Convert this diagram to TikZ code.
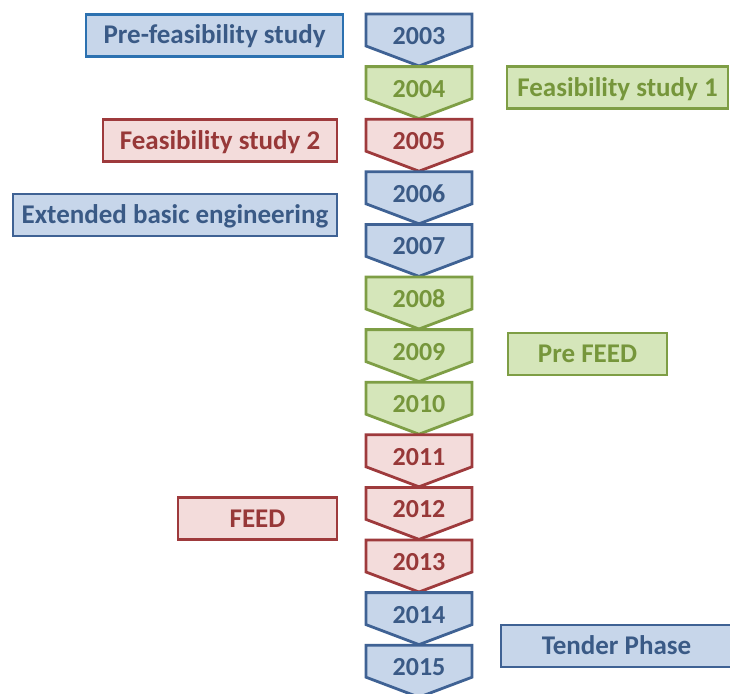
\documentclass[tikz,border=0pt]{standalone}
\usepackage{fontspec}
\setmainfont{Carlito}
\usetikzlibrary{positioning}
\definecolor{tlblue}{HTML}{C7D6EA}
\definecolor{tlbluedk}{HTML}{3F6294}
\definecolor{tlbluetx}{HTML}{3A5A86}
\definecolor{tlbluebr}{HTML}{2C71B0}
\definecolor{tlgreen}{HTML}{D5E6BA}
\definecolor{tlgreendk}{HTML}{7E9E45}
\definecolor{tlgreentx}{HTML}{76963B}
\definecolor{tlred}{HTML}{F3DCDB}
\definecolor{tlreddk}{HTML}{9E3A3C}
\definecolor{tlredtx}{HTML}{973838}

\begin{document}
\begin{tikzpicture}[x=1pt,y=-1pt,
      bluepart/.style={draw=tlbluedk,fill=tlblue,text=tlbluetx},
      greenpart/.style={draw=tlgreendk,fill=tlgreen,text=tlgreentx},
      redpart/.style={draw=tlreddk,fill=tlred,text=tlredtx},
      year/.style={anchor=base,font=\bfseries\fontsize{26}{26}\selectfont},
      phase/.style={draw,line width=2.8pt,minimum height=42pt,inner sep=0pt,
        text height=20pt,text depth=3pt,font=\bfseries\fontsize{27}{27}\selectfont}]
    \useasboundingbox[fill=white] (0,0) rectangle (730,693);

    % one chevron per year, stacked down the middle
    \foreach \yr/\tone [count=\i from 0] in {2003/blue,2004/green,2005/red,2006/blue,
        2007/blue,2008/green,2009/green,2010/green,2011/red,2012/red,2013/red,
        2014/blue,2015/blue}{
      \pgfmathsetmacro{\ytop}{14+52.6*\i}
      \draw[\tone part,line width=2.8pt,line join=miter]
        (366,\ytop) -- ++(106,0) -- ++(0,32) -- ++(-53,20) -- ++(-53,-20) -- cycle;
      \node[year,\tone part,draw=none,fill=none] (y\yr) at (419,\ytop+30.5) {\yr};
    }

    % the phases beside the years
    \node[phase,bluepart,draw=tlbluebr,minimum width=257pt] (prefeas) at (214.5,35.5) {Pre-feasibility study};
    \node[phase,greenpart,minimum width=221pt] (feas1) at (617.5,87.5) {Feasibility study 1};
    \node[phase,redpart,minimum width=234pt] (feas2) at (220,140.5) {Feasibility study 2};
    \node[phase,bluepart,minimum width=324pt] (extbasic) at (175,215) {Extended basic engineering};
    \node[phase,greenpart,minimum width=159pt] (prefeed) at (587.5,354) {Pre FEED};
    \node[phase,redpart,minimum width=159pt] (feed) at (257.5,518.5) {FEED};
    \node[phase,bluepart,minimum width=231pt] (tender) at (616.5,646) {Tender Phase};
  \end{tikzpicture}
\end{document}
